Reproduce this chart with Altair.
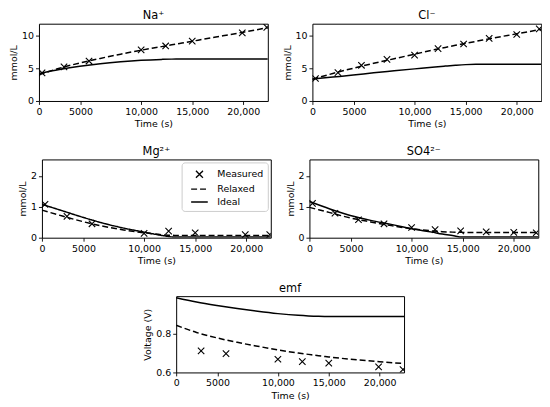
import altair as alt
import pandas as pd

# ---------------- data ----------------
x_max = 22400
x_tick_values = [0, 4070, 10000, 15000, 20000]
x_tick_labels = ["0", "5000", "10,000", "15,000", "20,000"]

series_names = ["Measured", "Relaxed", "Ideal"]

# measurement times
t_meas_a = [300, 2450, 4900, 10000, 12400, 15000, 19900, 22300]
t_meas_b = [300, 2500, 4800, 7300, 10000, 12300, 14800, 17300, 20000, 22200]
t_meas_emf = [2450, 4900, 10000, 12400, 15000, 19900, 22300]

# measured values
na_meas = [4.3, 5.2, 6.1, 7.8, 8.4, 9.15, 10.4, 11.25]
cl_meas = [3.43, 4.34, 5.45, 6.36, 7.0, 8.0, 8.7, 9.55, 10.15, 11.0]
mg_meas = [1.08, 0.69, 0.45, 0.14, 0.21, 0.16, 0.10, 0.10]
so4_meas = [1.11, 0.79, 0.58, 0.45, 0.33, 0.26, 0.22, 0.19, 0.17, 0.16]
emf_meas = [0.711, 0.697, 0.668, 0.656, 0.648, 0.629, 0.615]

# model curves
t_model = [0, 2000, 4000, 6000, 8000, 10000, 12000, 13000, 14000, 15000, 16000, 18000, 20000, 22400]
na_relaxed = [4.0, 5.0, 5.8, 6.5, 7.15, 7.75, 8.3, 8.58, 8.85, 9.12, 9.4, 9.95, 10.5, 11.2]
na_ideal = [4.2, 4.8, 5.3, 5.7, 6.0, 6.22, 6.35, 6.39, 6.4, 6.4, 6.4, 6.4, 6.4, 6.4]
cl_relaxed = [3.3, 4.2, 5.0, 5.75, 6.45, 7.15, 7.85, 8.18, 8.5, 8.8, 9.1, 9.7, 10.25, 10.95]
cl_ideal = [3.35, 3.65, 3.95, 4.3, 4.6, 4.9, 5.2, 5.33, 5.45, 5.55, 5.6, 5.62, 5.62, 5.62]
mg_relaxed = [0.89, 0.70, 0.52, 0.37, 0.25, 0.16, 0.09, 0.075, 0.075, 0.075, 0.075, 0.075, 0.075, 0.075]
mg_ideal = [1.08, 0.87, 0.66, 0.47, 0.31, 0.18, 0.06, 0.02, 0.02, 0.02, 0.02, 0.02, 0.02, 0.02]
so4_relaxed = [0.98, 0.81, 0.64, 0.51, 0.39, 0.29, 0.22, 0.195, 0.18, 0.172, 0.17, 0.17, 0.17, 0.17]
so4_ideal = [1.17, 0.93, 0.72, 0.56, 0.43, 0.29, 0.18, 0.12, 0.07, 0.02, 0.02, 0.02, 0.02, 0.02]
emf_relaxed = [0.843, 0.806, 0.778, 0.755, 0.735, 0.716, 0.700, 0.693, 0.686, 0.680, 0.674, 0.664, 0.655, 0.646]
emf_ideal = [0.985, 0.963, 0.945, 0.929, 0.915, 0.903, 0.894, 0.891, 0.889, 0.888, 0.888, 0.888, 0.888, 0.888]

# ---------------- styling ----------------
FONT = "DejaVu Sans"
X_PATH = "M-0.5,-0.5L0.5,0.5M-0.5,0.5L0.5,-0.5"
LINE_PATH = "M-1.2,0L1.2,0"
DASH = [6, 3]
LW = 1.5

label_expr = "".join(
    f"datum.value == {v} ? '{l}' : " for v, l in zip(x_tick_values, x_tick_labels)
) + "''"


def panel(title, t_m, meas, relaxed, ideal, ydom, yvals, yfmt, ytitle, w, h, legend=False):
    mdf = pd.DataFrame({"t": t_m, "v": meas, "series": "Measured"})
    ldf = pd.concat([
        pd.DataFrame({"t": t_model, "v": relaxed, "series": "Relaxed"}),
        pd.DataFrame({"t": t_model, "v": ideal, "series": "Ideal"}),
    ])
    x = alt.X("t:Q", scale=alt.Scale(domain=[0, x_max], nice=False),
              axis=alt.Axis(values=x_tick_values, labelExpr=label_expr, title="Time (s)",
                            labelFlush=False, labelOverlap=False))
    y = alt.Y("v:Q", scale=alt.Scale(domain=ydom, nice=False, zero=False),
              axis=alt.Axis(values=yvals, format=yfmt, title=ytitle))
    if legend:
        leg = alt.Legend(title=None, orient="top-right", offset=3,
                         symbolSize=196, symbolStrokeColor="black", symbolFillColor="transparent",
                         symbolStrokeWidth=1.4, symbolOffset=6, labelFontSize=9.5, labelOffset=10,
                         rowPadding=0, padding=4, strokeColor="#cccccc", fillColor="white",
                         cornerRadius=3, labelColor="black", labelFont=FONT)
        dash = alt.StrokeDash("series:N", scale=alt.Scale(domain=series_names, range=[[1, 0], DASH, [1, 0]]),
                              legend=leg)
        shape = alt.Shape("series:N", scale=alt.Scale(domain=series_names, range=[X_PATH, LINE_PATH, LINE_PATH]),
                          legend=leg)
        lines = alt.Chart(ldf).mark_line(color="black", strokeWidth=LW, interpolate="monotone", clip=True).encode(
            x=x, y=y, strokeDash=dash, detail="series:N")
        points = alt.Chart(mdf).mark_point(filled=False, color="black", strokeWidth=1.1, size=169, clip=True,
                                           opacity=1).encode(x=x, y=y, shape=shape)
        layer = alt.layer(lines, points)
    else:
        relaxed_line = alt.Chart(ldf).transform_filter("datum.series == 'Relaxed'").mark_line(
            color="black", strokeWidth=LW, strokeDash=DASH, interpolate="monotone", clip=True).encode(x=x, y=y)
        ideal_line = alt.Chart(ldf).transform_filter("datum.series == 'Ideal'").mark_line(
            color="black", strokeWidth=LW, interpolate="monotone", clip=True).encode(x=x, y=y)
        points = alt.Chart(mdf).mark_point(shape=X_PATH, filled=False, color="black", strokeWidth=1.1,
                                           size=169, clip=True, opacity=1).encode(x=x, y=y)
        layer = alt.layer(relaxed_line, ideal_line, points)
    return layer.properties(width=w, height=h,
                            title=alt.TitleParams(title, fontSize=11.5, font=FONT, fontWeight="normal",
                                                  offset=2, color="black"))


W, H = 231, 78
p_na = panel("Na\u207a", t_meas_a, na_meas, na_relaxed, na_ideal, [0, 11.8], [0, 5, 10], "d", "mmol/L", W, H)
p_cl = panel("Cl\u207b", t_meas_b, cl_meas, cl_relaxed, cl_ideal, [0, 11.8], [0, 5, 10], "d", "mmol/L", W, H)
p_mg = panel("Mg\u00b2\u207a", t_meas_a, mg_meas, mg_relaxed, mg_ideal, [0, 2.53], [0, 1, 2], "d", "mmol/L", W, 79,
             legend=True)
p_so4 = panel("SO4\u00b2\u207b", t_meas_b, so4_meas, so4_relaxed, so4_ideal, [0, 2.53], [0, 1, 2], "d", "mmol/L",
              W, 79)
p_emf = panel("emf", t_meas_emf, emf_meas, emf_relaxed, emf_ideal, [0.6, 0.993], [0.6, 0.8], ".1f", "Voltage (V)",
              230, 77)

row1 = alt.hconcat(p_na, p_cl, spacing=12)
row2 = alt.hconcat(p_mg, p_so4, spacing=12).resolve_scale(
    shape="independent", strokeDash="independent").resolve_legend(shape="independent", strokeDash="independent")

chart = alt.vconcat(row1, row2, p_emf, spacing=17, center=True).resolve_scale(
    shape="independent", strokeDash="independent").resolve_legend(
    shape="independent", strokeDash="independent").properties(
    padding={"left": 0, "top": 0, "right": 0, "bottom": 0}
).configure(font=FONT).configure_view(
    stroke="black", strokeWidth=1
).configure_axis(
    domain=False, grid=False, tickColor="black", tickSize=3.5, tickWidth=0.9,
    labelFontSize=9.5, titleFontSize=9.5, labelFont=FONT, titleFont=FONT,
    labelColor="black", titleColor="black", titleFontWeight="normal",
    labelPadding=2, titlePadding=4
).configure_axisX(titlePadding=3).configure_axisY(titlePadding=3)

chart.save("out.html", embed_options={"renderer": "svg", "actions": False})
